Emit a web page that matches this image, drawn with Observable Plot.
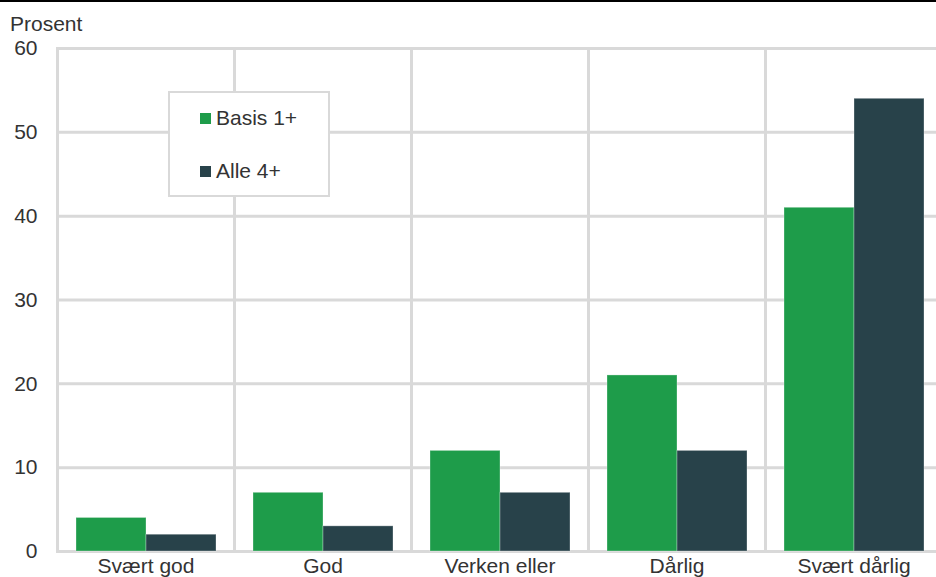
<!DOCTYPE html>
<html>
<head>
<meta charset="utf-8">
<script src="https://cdn.jsdelivr.net/npm/d3@7"></script>
<script src="https://cdn.jsdelivr.net/npm/@observablehq/plot@0.6"></script>
<style>
  html, body { margin: 0; padding: 0; background: #fff; overflow: hidden; }
  #wrap {
    position: relative; width: 936px; height: 577px; overflow: hidden;
    font-family: "Liberation Sans", Arial, sans-serif; color: #333;
  }
  #topline { position: absolute; left: 0; top: 0; width: 936px; height: 2px; background: #000; }
  #unit { position: absolute; left: 10px; top: 12px; font-size: 21px; line-height: 24px; }
  #legend {
    position: absolute; left: 168px; top: 91px; width: 158px; height: 102px;
    border: 2px solid #d9d9d9; background: #fff; font-size: 21px;
  }
  .item { position: absolute; left: 30px; display: flex; align-items: center; white-space: nowrap; }
  .sw { width: 11px; height: 11px; margin-right: 5px; }
  #chart { position: absolute; left: 0; top: 0; width: 944px; }
  #chart svg { max-width: none !important; }
</style>
</head>
<body>
<div id="wrap">
  <div id="chart"></div>
  <div id="topline"></div>
  <div id="unit">Prosent</div>
  <div id="legend"></div>
</div>
<script>
// Response categories and the two groups compared
const categories = ["Svært god", "God", "Verken eller", "Dårlig", "Svært dårlig"];
const series = ["Basis 1+", "Alle 4+"];
const basis = [4, 7, 12, 21, 41];
const alle = [2, 3, 7, 12, 54];
const colors = ["#1e9c4a", "#28424a"];
const yTicks = [0, 10, 20, 30, 40, 50, 60];

const data = categories.flatMap((c, i) => [
  {category: c, group: series[0], value: basis[i]},
  {category: c, group: series[1], value: alle[i]}
]);

const grid = "#d9d9d9";

const chart = Plot.plot({
  width: 944,
  height: 577,
  marginLeft: 55,
  marginRight: 0,
  marginTop: 48,
  marginBottom: 26,
  style: {fontFamily: "Liberation Sans, Arial, sans-serif", fontSize: "21px", color: "#333", background: "transparent", maxWidth: "none"},
  fx: {domain: categories, padding: 0, label: null, tickSize: 0, tickPadding: 7},
  x: {domain: series, paddingInner: 0, paddingOuter: 0.25, axis: null},
  y: {domain: [0, 60], ticks: yTicks, label: null, tickSize: 0, tickPadding: 20},
  color: {domain: series, range: colors},
  marks: [
    Plot.gridY(yTicks, {stroke: grid, strokeOpacity: 1, strokeWidth: 3}),
    Plot.frame({stroke: grid, strokeWidth: 3}),
    Plot.barY(data, {
      fx: "category", x: "group", y: "value", fill: "group",
      stroke: "#ffffff", strokeOpacity: 0.3, strokeWidth: 1
    }),
    Plot.axisY(yTicks, {tickSize: 0, tickPadding: 20, fill: "#333", label: null})
  ]
});
document.getElementById("chart").appendChild(chart);

// Legend box drawn over the plot area
const legend = document.getElementById("legend");
series.forEach((s, i) => {
  const item = document.createElement("div");
  item.className = "item";
  item.style.top = (i === 0 ? 13 : 66) + "px";
  const sw = document.createElement("span");
  sw.className = "sw";
  sw.style.background = colors[i];
  const label = document.createElement("span");
  label.textContent = s;
  item.appendChild(sw);
  item.appendChild(label);
  legend.appendChild(item);
});
</script>
</body>
</html>
